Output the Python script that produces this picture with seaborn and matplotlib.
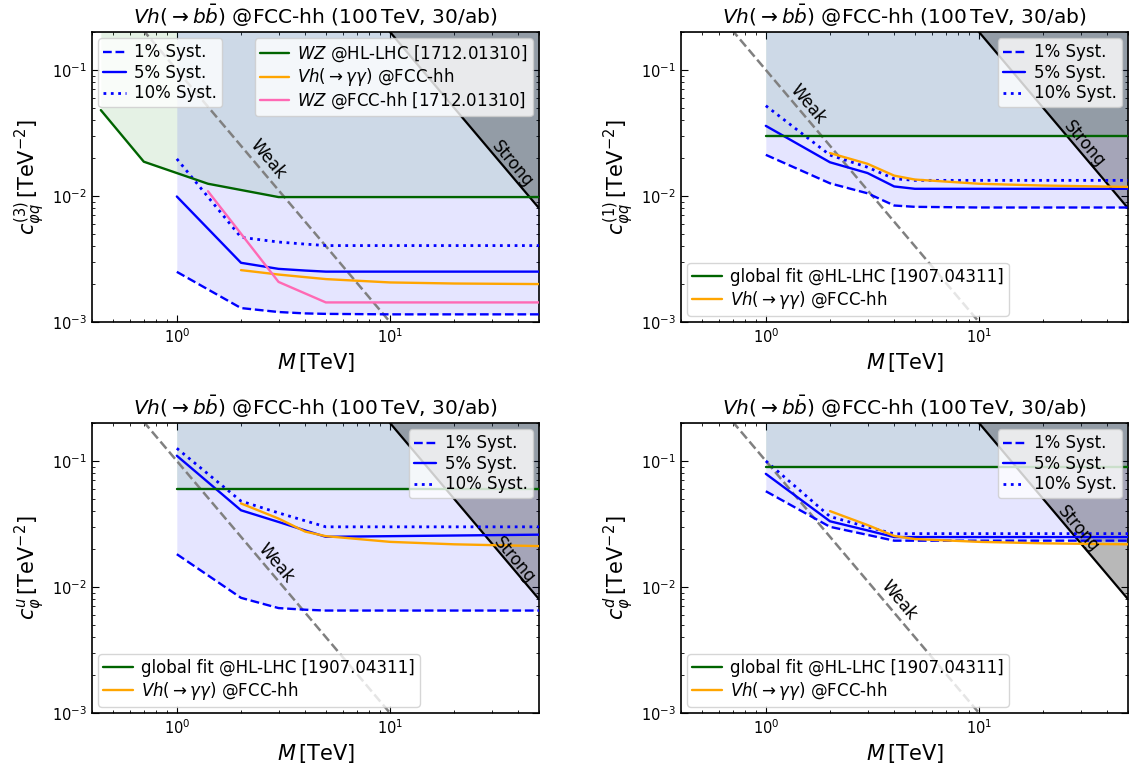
import numpy as np
import pandas as pd
import matplotlib
matplotlib.use("Agg")
import matplotlib.pyplot as plt
import seaborn as sns

# ---------------- data ----------------
M = [1, 2, 3, 4, 5, 10, 20, 50]
M_gg = [2, 3, 4, 5, 10, 20, 50]

# panel 1: c_phiq^(3)
p1_syst1 = [0.0025, 0.00129, 0.0012, 0.00117, 0.00116, 0.00115, 0.00115, 0.00115]
p1_syst5 = [0.0099, 0.00295, 0.00264, 0.00256, 0.00251, 0.00251, 0.00251, 0.00251]
p1_syst10 = [0.0197, 0.0047, 0.00431, 0.00415, 0.00404, 0.00404, 0.00404, 0.00404]
p1_gg = [0.00258, 0.00238, 0.00227, 0.00219, 0.00206, 0.00202, 0.0020]
p1_hl_M = [0.44, 0.7, 1.4, 3, 50]
p1_hl = [0.048, 0.0187, 0.0125, 0.0098, 0.0098]
p1_fcc_M = [1.4, 3, 5, 50]
p1_fcc = [0.0109, 0.00208, 0.00143, 0.00143]

# panel 2: c_phiq^(1)
p2_syst1 = [0.0212, 0.0126, 0.0105, 0.0084, 0.0082, 0.0081, 0.0081, 0.0081]
p2_syst5 = [0.036, 0.0185, 0.0152, 0.0119, 0.0114, 0.0114, 0.0114, 0.0114]
p2_syst10 = [0.052, 0.0211, 0.0169, 0.0137, 0.0133, 0.0133, 0.0133, 0.0133]
p2_gg = [0.0219, 0.018, 0.0145, 0.0135, 0.0125, 0.0121, 0.0118]
p2_hl = 0.030

# panel 3: c_phi^u
p3_syst1 = [0.0182, 0.0082, 0.0068, 0.0066, 0.0065, 0.0065, 0.0065, 0.0065]
p3_syst5 = [0.11, 0.0406, 0.0328, 0.0281, 0.0250, 0.0253, 0.0256, 0.0260]
p3_syst10 = [0.126, 0.0480, 0.0387, 0.0335, 0.0300, 0.0300, 0.0300, 0.0300]
p3_gg = [0.046, 0.0349, 0.0275, 0.0253, 0.0228, 0.0218, 0.0211]
p3_hl = 0.060

# panel 4: c_phi^d
p4_syst1 = [0.0575, 0.0300, 0.0259, 0.0233, 0.0233, 0.0233, 0.0233, 0.0233]
p4_syst5 = [0.079, 0.0332, 0.0281, 0.0249, 0.0249, 0.0249, 0.0249, 0.0249]
p4_syst10 = [0.100, 0.0362, 0.0299, 0.0264, 0.0265, 0.0265, 0.0265, 0.0265]
p4_gg = [0.040, 0.031, 0.0254, 0.0240, 0.0228, 0.0222, 0.0218]
p4_hl = 0.090

# weak / strong coupling lines c = k / M^2
WEAK_K = 0.1
STRONG_K = 20.0

XLIM = (0.4, 50)
YLIM = (1e-3, 0.2)

TITLE = r"$Vh(\to b\bar{b})$ @FCC-hh (100$\,$TeV, 30/ab)"
XLABEL = r"$M\,[\mathrm{TeV}]$"
YLABELS = [r"$c_{\varphi q}^{(3)}\,[\mathrm{TeV}^{-2}]$",
           r"$c_{\varphi q}^{(1)}\,[\mathrm{TeV}^{-2}]$",
           r"$c_{\varphi}^{u}\,[\mathrm{TeV}^{-2}]$",
           r"$c_{\varphi}^{d}\,[\mathrm{TeV}^{-2}]$"]

SYST_LABELS = ["1% Syst.", "5% Syst.", "10% Syst."]
LBL_HL_WZ = r"$WZ$ @HL-LHC [1712.01310]"
LBL_GG = r"$Vh(\to\gamma\gamma)$ @FCC-hh"
LBL_FCC_WZ = r"$WZ$ @FCC-hh [1712.01310]"
LBL_HL_GLOBAL = "global fit @HL-LHC [1907.04311]"

# ---------------- style ----------------
sns.set_style("ticks")
plt.rcParams.update({
    "font.family": ["DejaVu Sans"],
    "mathtext.fontset": "dejavusans",
    "text.color": "black",
    "axes.labelcolor": "black",
    "xtick.direction": "in",
    "ytick.direction": "in",
    "xtick.top": True,
    "ytick.right": True,
    "xtick.major.size": 5,
    "ytick.major.size": 5,
    "xtick.minor.size": 2.5,
    "ytick.minor.size": 2.5,
    "xtick.labelsize": 10.5,
    "ytick.labelsize": 10.5,
    "axes.linewidth": 1.2,
    "axes.edgecolor": "black",
    "xtick.color": "black",
    "ytick.color": "black",
    "xtick.labelcolor": "black",
    "ytick.labelcolor": "black",
})

fig = plt.figure(figsize=(11.31, 7.67), dpi=100)
W, H = 1131, 767
boxes = [(92, 32, 539, 322), (681, 32, 1128, 322),
         (92, 423, 539, 713), (681, 423, 1128, 713)]
axes = []
for (l, t, r, b) in boxes:
    axes.append(fig.add_axes([l / W, 1 - b / H, (r - l) / W, (b - t) / H]))

BLUE = "blue"
GREEN = "darkgreen"
ORANGE = "orange"
PINK = "hotpink"
LW = 1.7


def line(ax, x, y, color, ls="-", lw=LW, label=None, z=3):
    sns.lineplot(x=x, y=y, ax=ax, color=color, linestyle=ls, linewidth=lw,
                 estimator=None, sort=False, legend=False, label=label, zorder=z)
    return ax.lines[-1]


panels = [
    dict(s1=p1_syst1, s5=p1_syst5, s10=p1_syst10, gg=p1_gg,
         hlM=p1_hl_M, hl=p1_hl, weak=(2.67, 0.0197), strong=(37.5, 0.0179)),
    dict(s1=p2_syst1, s5=p2_syst5, s10=p2_syst10, gg=p2_gg,
         hlM=[1, 50], hl=[p2_hl, p2_hl], weak=(1.57, 0.0536), strong=(31.3, 0.0259)),
    dict(s1=p3_syst1, s5=p3_syst5, s10=p3_syst10, gg=p3_gg,
         hlM=[1, 50], hl=[p3_hl, p3_hl], weak=(2.92, 0.0153), strong=(38.3, 0.0163)),
    dict(s1=p4_syst1, s5=p4_syst5, s10=p4_syst10, gg=p4_gg,
         hlM=[1, 50], hl=[p4_hl, p4_hl], weak=(4.19, 0.0078), strong=(29.1, 0.029)),
]

xl = np.array(XLIM, dtype=float)

for i, (ax, p) in enumerate(zip(axes, panels)):
    ax.set_xscale("log")
    ax.set_yscale("log")

    # shaded regions
    ax.fill_between(p["hlM"], p["hl"], YLIM[1], color="green", alpha=0.1, lw=0, zorder=1)
    ax.fill_between(M, p["s1"], YLIM[1], color="blue", alpha=0.1, lw=0, zorder=1)
    ax.fill_between(xl, STRONG_K / xl ** 2, YLIM[1], color="black", alpha=0.28, lw=0, zorder=1)

    # weak/strong lines
    ax.plot(xl, WEAK_K / xl ** 2, color="gray", ls="--", lw=1.8, zorder=2)
    ax.plot(xl, STRONG_K / xl ** 2, color="black", ls="-", lw=1.6, zorder=2)

    h1 = line(ax, M, p["s1"], BLUE, "--", label=SYST_LABELS[0])
    h5 = line(ax, M, p["s5"], BLUE, "-", label=SYST_LABELS[1])
    h10 = line(ax, M, p["s10"], BLUE, ":", lw=2.0, label=SYST_LABELS[2])
    if i == 0:
        hg = line(ax, p["hlM"], p["hl"], GREEN, label=LBL_HL_WZ)
        ho = line(ax, M_gg, p["gg"], ORANGE, label=LBL_GG)
        hp = line(ax, p1_fcc_M, p1_fcc, PINK, label=LBL_FCC_WZ)
    else:
        hg = line(ax, p["hlM"], p["hl"], GREEN, label=LBL_HL_GLOBAL)
        ho = line(ax, M_gg, p["gg"], ORANGE, label=LBL_GG)

    ax.set_xlim(*XLIM)
    ax.set_ylim(*YLIM)
    ax.set_title(TITLE, fontsize=14.5, pad=6, color="black")
    ax.set_xlabel(XLABEL, fontsize=15, color="black")
    ax.set_ylabel(YLABELS[i], fontsize=15, color="black")
    ax.tick_params(which="both", direction="in", top=True, right=True,
                   colors="black", labelcolor="black")

    ax.text(*p["weak"], "Weak", rotation=-50, ha="center", va="center",
            fontsize=12, color="black", zorder=4)
    ax.text(*p["strong"], "Strong", rotation=-50, ha="center", va="center",
            fontsize=12, color="black", zorder=4)

    leg_kw = dict(fontsize=12, borderpad=0.3, labelspacing=0.15,
                  handletextpad=0.5, borderaxespad=0.38, fancybox=True, framealpha=0.8,
                  labelcolor="black")
    if i == 0:
        leg1 = ax.legend([h1, h5, h10], SYST_LABELS, loc="upper left",
                         handlelength=1.35, **leg_kw)
        ax.add_artist(leg1)
        ax.legend([hg, ho, hp], [LBL_HL_WZ, LBL_GG, LBL_FCC_WZ], loc="upper right",
                  handlelength=1.75, **leg_kw)
    else:
        leg1 = ax.legend([h1, h5, h10], SYST_LABELS, loc="upper right",
                         handlelength=1.35, **leg_kw)
        ax.add_artist(leg1)
        ax.legend([hg, ho], [LBL_HL_GLOBAL, LBL_GG], loc="lower left",
                  handlelength=1.75, **leg_kw)

fig.savefig("out.png", dpi=100)
